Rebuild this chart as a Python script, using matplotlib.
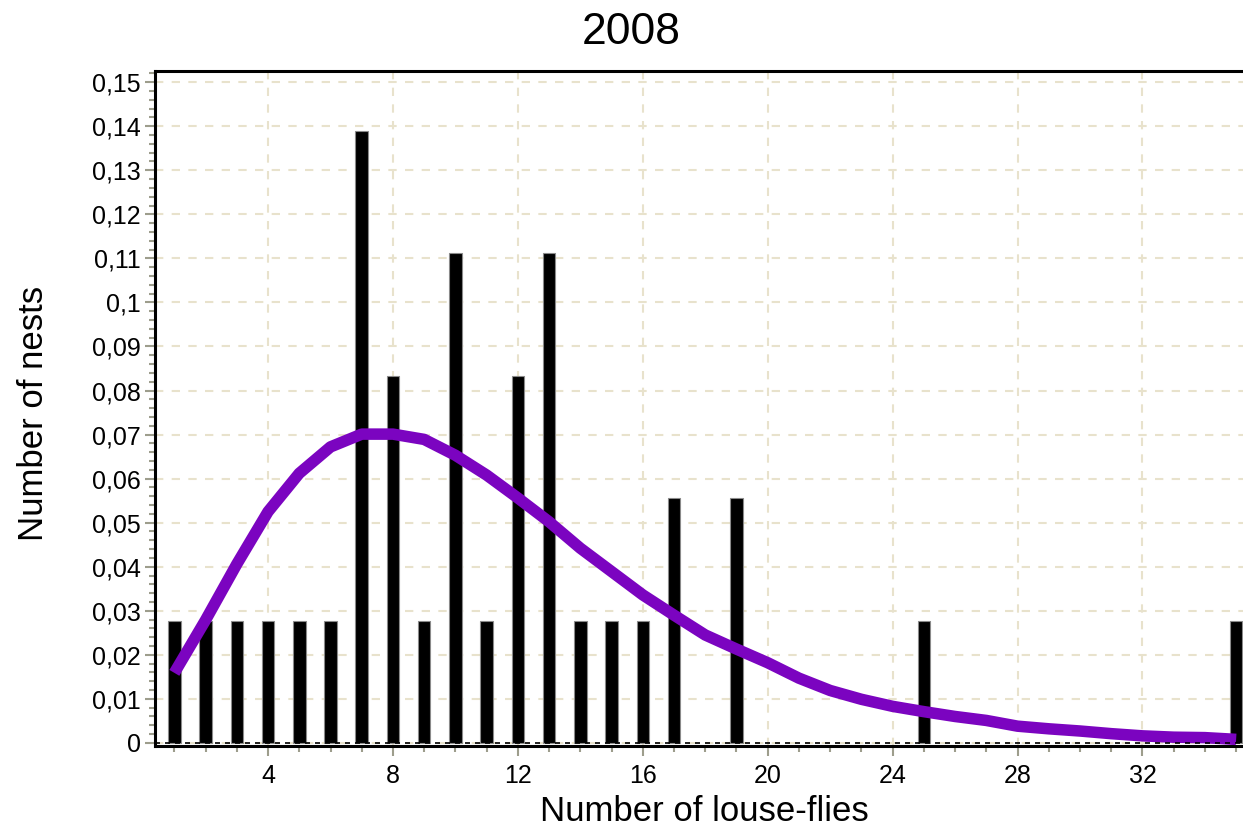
import numpy as np
import matplotlib.pyplot as plt
from matplotlib.ticker import MultipleLocator, FuncFormatter

plt.rcParams['font.family'] = ['Liberation Sans', 'DejaVu Sans']

# relative frequency of nests per number of louse-flies (n = 36)
flies = [1, 2, 3, 4, 5, 6, 7, 8, 9, 10, 11, 12, 13, 14, 15, 16, 17, 19, 25, 35]
nests = [1, 1, 1, 1, 1, 1, 5, 3, 1, 4, 1, 3, 4, 1, 1, 1, 2, 2, 1, 1]
n_total = 36

# fitted distribution, evaluated at 1..35
fit_x = list(range(1, 36))
fit_y = [0.0159, 0.0279, 0.0406, 0.0525, 0.0612, 0.0672, 0.0701, 0.0701,
         0.0689, 0.0653, 0.0608, 0.0556, 0.0502, 0.0442, 0.0389, 0.0336,
         0.0290, 0.0245, 0.0213, 0.0182, 0.0147, 0.0119, 0.0099, 0.0083,
         0.0071, 0.0060, 0.0051, 0.0038, 0.0032, 0.0027, 0.0021, 0.0016,
         0.0013, 0.0012, 0.0008]

freq = np.array(nests) / n_total

fig = plt.figure(figsize=(12.43, 8.31), dpi=100)
ax = fig.add_axes([0.1247, 0.1023, 0.8753, 0.8126])

grid_c = '#e8e2cc'
tick_c = '#9d9d8c'

ax.bar(flies, freq, width=0.4, color='black', edgecolor='#8a8a8a',
       linewidth=0.8, zorder=3)
ax.plot(fit_x, fit_y, color='#7b04c0', linewidth=8.3, solid_capstyle='butt',
        zorder=4)
ax.axhline(0, color='black', lw=1.2, ls=(0, (3, 3)), zorder=5)

ax.set_xlim(0.38, 35.22)
ax.set_ylim(-0.0007, 0.1526)

ax.xaxis.set_major_locator(MultipleLocator(4))
ax.xaxis.set_minor_locator(MultipleLocator(1))
ax.yaxis.set_major_locator(MultipleLocator(0.01))
ax.yaxis.set_minor_locator(MultipleLocator(0.002))
ax.yaxis.set_major_formatter(FuncFormatter(lambda v, p: ('%g' % round(v, 3)).replace('.', ',')))

ax.grid(True, which='major', color=grid_c, ls=(0, (4, 4)), lw=1.5, zorder=0)
ax.tick_params(which='both', direction='out', color=tick_c, labelsize=18,
               width=1.5)
ax.tick_params(which='major', length=7, pad=3)
ax.tick_params(which='minor', length=4)
ax.tick_params(axis='x', which='major', pad=6)

for s in ['left', 'top', 'bottom']:
    ax.spines[s].set_linewidth(2.2)
    ax.spines[s].set_color('black')
ax.spines['right'].set_visible(False)

fig.text(0.508, 0.961, '2008', ha='center', va='center', fontsize=32)
ax.set_xlabel('Number of louse-flies', fontsize=25)
ax.set_ylabel('Number of nests', fontsize=25)
ax.xaxis.set_label_coords(0.5046, -0.072)
ax.yaxis.set_label_coords(-0.0965, 0.493)

fig.savefig('out.png', dpi=100)
